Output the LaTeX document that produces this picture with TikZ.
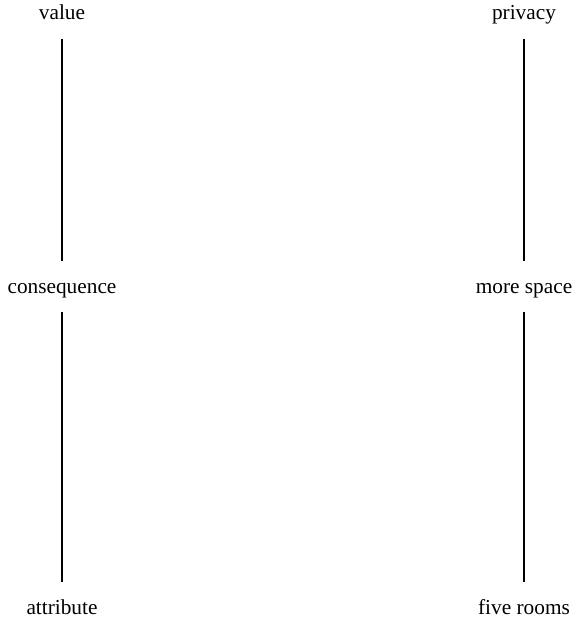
\documentclass[tikz,border=0pt]{standalone}
\usepackage{fontspec}
\setmainfont{Liberation Serif}
\begin{document}
\begin{tikzpicture}[x=0.0165cm, y=-0.0165cm, font=\fontsize{10}{12}\selectfont]
        \tikzset{
            level/.style={anchor=base, inner sep=0pt, text height=0.7em, text depth=0.22em},
            chain/.style={line width=1pt, shorten <=6.5pt, shorten >=8pt}
        }
        \useasboundingbox (0,0) rectangle (585,623);

        % ===== Left: the ladder terms =====
        \node[level] (value)       at (62, 20)  {value};
        \node[level] (consequence) at (62, 293) {consequence};
        \node[level] (attribute)   at (62, 614) {attribute};

        % ===== Right: an example =====
        \node[level] (privacy)   at (524, 20)  {privacy};
        \node[level] (morespace) at (524, 293) {more space};
        \node[level] (fiverooms) at (524, 614) {five rooms};

        \draw[chain] (value) -- (consequence);
        \draw[chain] (consequence) -- (attribute);
        \draw[chain] (privacy) -- (morespace);
        \draw[chain] (morespace) -- (fiverooms);
    \end{tikzpicture}
\end{document}
